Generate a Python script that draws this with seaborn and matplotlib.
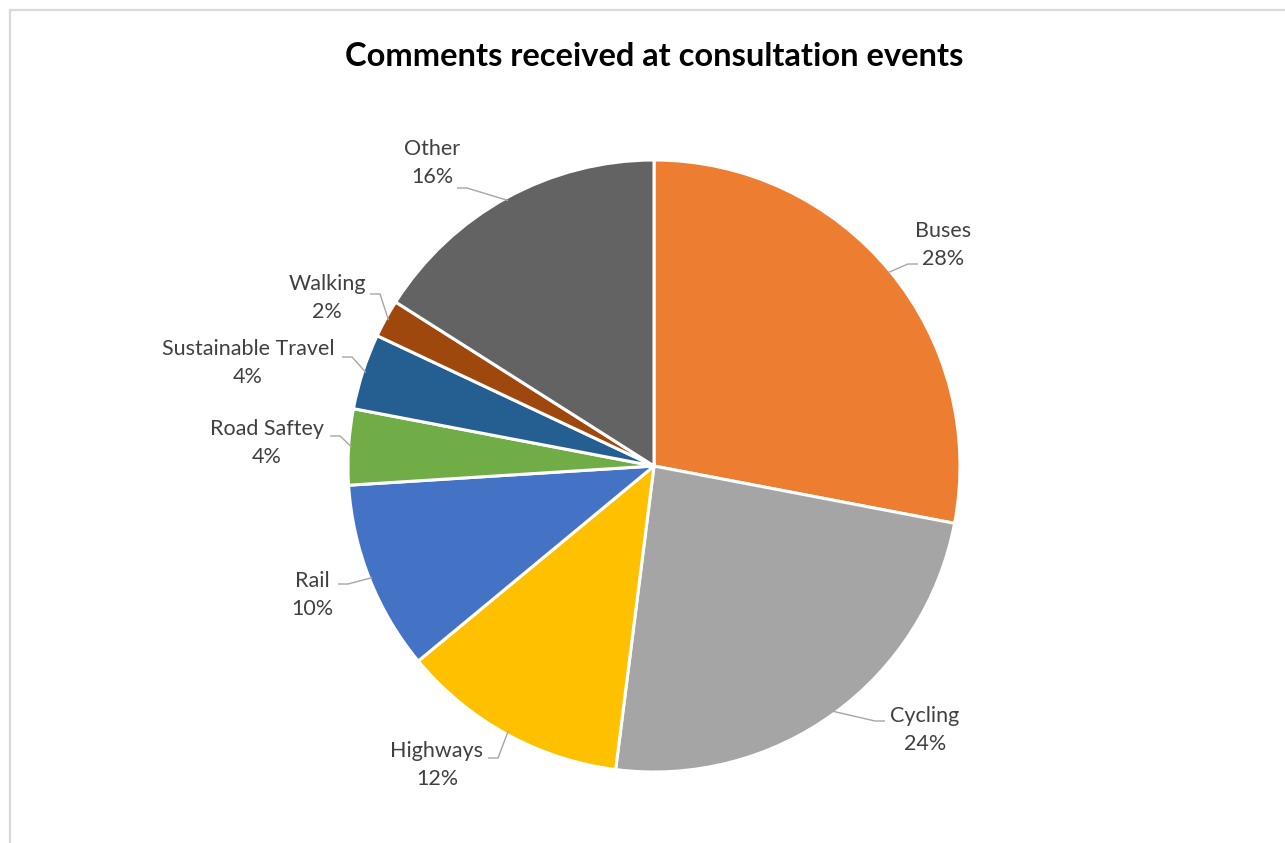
import numpy as np
import matplotlib
matplotlib.use("Agg")
import matplotlib.pyplot as plt
import seaborn as sns
from matplotlib.patches import Rectangle

# --- DATA ---
categories = ["Buses", "Cycling", "Highways", "Rail", "Road Saftey",
              "Sustainable Travel", "Walking", "Other"]
shares = [28, 24, 12, 10, 4, 4, 2, 16]
colors = ["#ED7D31", "#A5A5A5", "#FFC000", "#4472C4", "#70AD47",
          "#255E91", "#9E480E", "#636363"]
title = "Comments received at consultation events"

# --- LAYOUT (pixel coords, y from top) ---
W, H = 1285, 843
center = (654, 466)
radius = 306
# label centre and where the leader line meets the text
label_pos = [(943, 245), (925, 730), (437, 765), (312, 595),
             (267, 443), (248, 363), (327, 298), (432, 163)]
leader_anchor = [(918, 264), (885, 721), (488, 758), (338, 584),
                 (330, 436), (342, 357), (370, 294), (457, 188)]

sns.set_theme(style="white")
plt.rcParams["font.family"] = ["Lato", "DejaVu Sans"]

fig = plt.figure(figsize=(W / 100, H / 100), dpi=100)
ax = fig.add_axes([0, 0, 1, 1])

# chart frame
ax.add_patch(Rectangle((10, -10), W + 10, H, fill=False,
                       edgecolor="#D9D9D9", linewidth=1.6))

cx, cy = center[0], H - center[1]
wedges, _ = ax.pie(shares, colors=colors, startangle=90, counterclock=False,
                   center=(cx, cy), radius=radius,
                   wedgeprops=dict(edgecolor="white", linewidth=2.2))
ax.set_xlim(0, W)
ax.set_ylim(0, H)
ax.set_aspect("equal")
ax.set_axis_off()

# --- LABELS WITH LEADER LINES ---
for w, name, val, (lx, ly), (axx, ayy) in zip(wedges, categories, shares,
                                               label_pos, leader_anchor):
    mid = np.deg2rad((w.theta1 + w.theta2) / 2)
    ex = cx + radius * 0.99 * np.cos(mid)
    ey = cy + radius * 0.99 * np.sin(mid)
    ay = H - ayy
    step = 10 if axx < cx else -10
    ax.plot([axx, axx + step, ex], [ay, ay, ey], color="#A6A6A6",
            linewidth=1.0, solid_capstyle="butt", zorder=1)
    ax.text(lx, H - ly, f"{name}\n{val}%", ha="center", va="center",
            fontsize=15.5, color="#404040", linespacing=1.5)

ax.text(654, H - 57, title, ha="center", va="center", fontsize=23.5,
        fontweight="bold", color="black")

fig.savefig("out.png", dpi=100)
